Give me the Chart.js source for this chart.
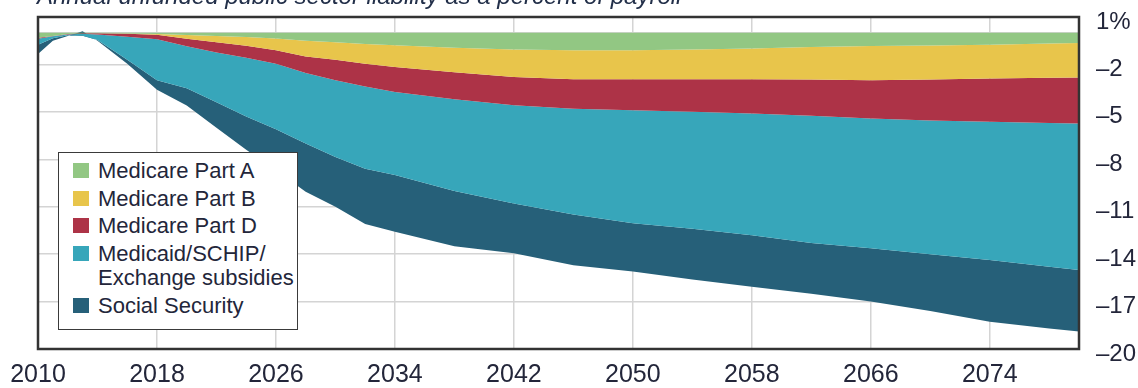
<!DOCTYPE html>
<html>
<head>
<meta charset="utf-8">
<script src="https://cdn.jsdelivr.net/npm/chart.js@4"></script>
<style>
  body { margin: 0; background: #fff; overflow: hidden; }
  #wrap { position: relative; width: 1138px; height: 388px; }
  #title {
    position: absolute; left: 37px; top: -16px; white-space: nowrap;
    font: italic 24px "Liberation Sans", Arial, sans-serif; line-height: 24px; color: #23304a;
  }
  #legend {
    position: absolute; left: 58px; top: 152px; width: 238px; height: 170px;
    background: #fff; border: 1.5px solid #3a3a3a; padding-top: 6px; box-sizing: content-box;
    font: 22px "Liberation Sans", Arial, sans-serif; color: #23263a;
  }
  .item { display: flex; align-items: flex-start; margin-bottom: 3px; }
  .sw { width: 16px; height: 15px; margin: 4px 9px 0 14px; flex: none; }
  .txt { line-height: 24.5px; white-space: pre-line; }
</style>
</head>
<body>
<div id="wrap">
  <canvas id="canvas" width="1138" height="388"></canvas>
  <div id="title">Annual unfunded public sector liability as a percent of payroll</div>
  <div id="legend"></div>
</div>
<script>
const years = [2010, 2011, 2012, 2013, 2014, 2016, 2018, 2020, 2022, 2024, 2026, 2028, 2030, 2032, 2034,
  2038, 2042, 2046, 2050, 2054, 2058, 2062, 2066, 2070, 2074, 2078, 2080];
const partA = [-0.32, -0.2, -0.08, -0.03, -0.03, -0.05, -0.08, -0.14, -0.2, -0.27, -0.36, -0.5, -0.6, -0.7, -0.79,
  -0.95, -1.06, -1.1, -1.1, -1.05, -1.0, -0.9, -0.84, -0.8, -0.75, -0.68, -0.64];
const partB = [0, 0, 0, 0, 0, -0.01, -0.04, -0.24, -0.4, -0.55, -0.74, -1.0, -1.1, -1.25, -1.37,
  -1.55, -1.73, -1.84, -1.84, -1.89, -1.94, -2.06, -2.16, -2.15, -2.14, -2.17, -2.19];
const partD = [-0.06, -0.02, -0.02, -0.03, -0.07, -0.19, -0.28, -0.47, -0.65, -0.76, -0.85, -1.05, -1.3, -1.45, -1.58,
  -1.7, -1.79, -1.86, -1.96, -2.06, -2.16, -2.29, -2.42, -2.6, -2.74, -2.85, -2.91];
const medicaid = [-0.37, -0.13, -0.05, -0.12, -0.35, -1.45, -2.6, -2.65, -3.15, -3.72, -4.15, -4.45, -4.85, -5.2, -5.26,
  -5.8, -6.22, -6.7, -7.15, -7.4, -7.7, -8.05, -8.21, -8.45, -8.74, -9.1, -9.26];
const socialSecurity = [-0.59, -0.15, -0.05, 0.1, -0.05, -0.25, -0.6, -1.1, -1.6, -2.1, -2.6, -3.06, -3.15, -3.5, -3.58,
  -3.5, -3.15, -3.2, -3.05, -3.2, -3.26, -3.2, -3.37, -3.6, -3.9, -3.9, -3.9];

const seriesNames = ["Medicare Part A", "Medicare Part B", "Medicare Part D", "Medicaid/SCHIP/\nExchange subsidies", "Social Security"];
const seriesColors = ["#92c783", "#e8c54b", "#ad3347", "#37a6ba", "#266079"];
const xTicks = [2010, 2018, 2026, 2034, 2042, 2050, 2058, 2066, 2074];
const yTicks = [1, 0, -2, -5, -8, -11, -14, -17, -20];

Chart.defaults.font.family = "'Liberation Sans', Arial, sans-serif";
Chart.defaults.color = "#23263a";

// dark box round the plot area
const frame = {
  id: "frame",
  afterDatasetsDraw(chart) {
    const { ctx, chartArea: a } = chart;
    ctx.save();
    ctx.strokeStyle = "#333";
    ctx.lineWidth = 2.5;
    ctx.strokeRect(a.left, a.top, a.right - a.left, a.bottom - a.top);
    ctx.restore();
  }
};

// keep the plot area where the layout padding puts it
function noPad(s) {
  s.paddingTop = 0; s.paddingBottom = 0; s.paddingLeft = 0; s.paddingRight = 0;
}

function chart() {
  const ctx = document.getElementById("canvas").getContext("2d");
  const all = [partA, partB, partD, medicaid, socialSecurity];
  const c = new Chart(ctx, {
    type: "line",
    data: {
      datasets: all.map((vals, i) => ({
        label: seriesNames[i],
        data: vals.map((v, j) => ({ x: years[j], y: v })),
        backgroundColor: seriesColors[i],
        borderColor: seriesColors[i],
        borderWidth: 0,
        pointRadius: 0,
        fill: i === 0 ? "origin" : "-1",
        tension: 0
      }))
    },
    options: {
      responsive: false,
      animation: false,
      layout: { padding: { left: 38, top: 17, right: 0, bottom: 0 } },
      plugins: { legend: { display: false }, tooltip: { enabled: false } },
      scales: {
        x: {
          type: "linear", min: 2010, max: 2080,
          afterBuildTicks: s => { s.ticks = xTicks.map(v => ({ value: v })); },
          afterFit: s => { s.height = 39; noPad(s); },
          grid: { color: "#d4d4d4", lineWidth: 1.5, drawTicks: false },
          border: { display: false },
          ticks: { callback: v => String(v), font: { size: 25 }, padding: 11, maxRotation: 0, autoSkip: false }
        },
        y: {
          position: "right", stacked: true, min: -20, max: 1,
          afterBuildTicks: s => { s.ticks = yTicks.map(v => ({ value: v })); },
          afterFit: s => { s.width = 59; noPad(s); },
          grid: { color: "#d4d4d4", lineWidth: 1.5, drawTicks: false },
          border: { display: false },
          ticks: {
            callback: v => v === 1 ? "1%" : v === 0 ? "" : "\u2013" + Math.abs(v),
            font: { size: 24 }, padding: 17, labelOffset: 5
          }
        }
      }
    },
    plugins: [frame]
  });

  const legend = document.getElementById("legend");
  c.data.datasets.forEach(ds => {
    const item = document.createElement("div");
    item.className = "item";
    const sw = document.createElement("div");
    sw.className = "sw";
    sw.style.background = ds.backgroundColor;
    const txt = document.createElement("div");
    txt.className = "txt";
    txt.textContent = ds.label;
    item.appendChild(sw);
    item.appendChild(txt);
    legend.appendChild(item);
  });
}
chart();
</script>
</body>
</html>
